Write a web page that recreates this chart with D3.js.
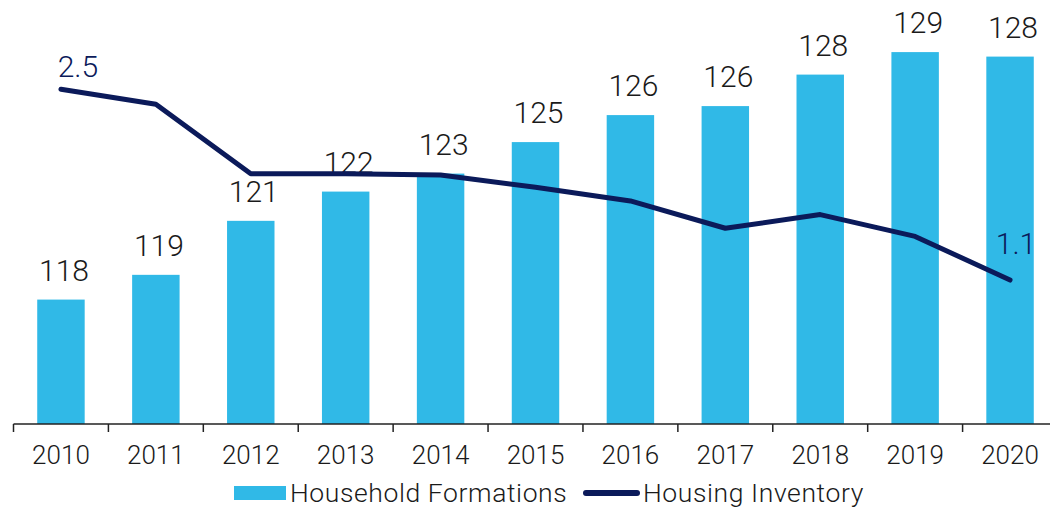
<!DOCTYPE html>
<html>
<head>
<meta charset="utf-8">
<script src="https://cdn.jsdelivr.net/npm/d3@7"></script>
<style>
  body { margin: 0; background: #fff; }
  svg { display: block; font-family: Roboto, "Noto Sans", sans-serif; font-weight: 300; }
</style>
</head>
<body>
<svg id="chart" width="1050" height="507"></svg>
<script>
// data
const years = ['2010', '2011', '2012', '2013', '2014', '2015', '2016', '2017', '2018', '2019', '2020'];
const households = [117.6, 118.7, 121.1, 122.4, 123.2, 124.6, 125.8, 126.2, 127.6, 128.6, 128.4];
const inventory = [2.50, 2.39, 1.88, 1.88, 1.87, 1.78, 1.68, 1.48, 1.58, 1.42, 1.10];
const seriesNames = ['Household Formations', 'Housing Inventory'];

const BAR_COLOR = '#30b9e7';
const LINE_COLOR = '#0b1a5a';
const TEXT_COLOR = '#1a1a1a';
const BASE_Y = 424;

const svg = d3.select('#chart');

const x = d3.scaleBand()
    .domain(years)
    .range([13.5, 1057.5]);

const y = d3.scaleLinear()
    .domain([112.07, 130])
    .range([BASE_Y, 20.6]);

const y2 = d3.scaleLinear()
    .domain([0, 3])
    .range([430, 21]);

const fmt = d3.format('.0f');
const barW = x.bandwidth() * 0.5;
const cx = d => x(d) + x.bandwidth() / 2;

// bars
svg.append('g')
    .selectAll('rect')
    .data(years)
    .join('rect')
    .attr('x', d => cx(d) - barW / 2)
    .attr('y', (d, i) => y(households[i]))
    .attr('width', barW)
    .attr('height', (d, i) => BASE_Y - y(households[i]))
    .attr('fill', BAR_COLOR);

// bar labels
svg.append('g')
    .selectAll('text')
    .data(years)
    .join('text')
    .attr('x', d => cx(d) + 3)
    .attr('y', (d, i) => y(households[i]) - 19)
    .attr('text-anchor', 'middle')
    .attr('font-size', 30)
    .attr('fill', TEXT_COLOR)
    .text((d, i) => fmt(households[i]));

// x axis with ticks between categories
svg.append('line')
    .attr('x1', x.range()[0]).attr('x2', x.range()[1])
    .attr('y1', BASE_Y).attr('y2', BASE_Y)
    .attr('stroke', '#222').attr('stroke-width', 1.5);

svg.append('g')
    .selectAll('line')
    .data(years.concat(['end']))
    .join('line')
    .attr('x1', (d, i) => x.range()[0] + i * x.step())
    .attr('x2', (d, i) => x.range()[0] + i * x.step())
    .attr('y1', BASE_Y).attr('y2', BASE_Y + 8)
    .attr('stroke', '#222').attr('stroke-width', 1.5);

svg.append('g')
    .selectAll('text')
    .data(years)
    .join('text')
    .attr('x', d => cx(d))
    .attr('y', 464)
    .attr('text-anchor', 'middle')
    .attr('font-size', 26)
    .attr('fill', TEXT_COLOR)
    .text(d => d);

// line
const line = d3.line()
    .x((d, i) => cx(years[i]))
    .y(d => y2(d));

svg.append('path')
    .datum(inventory)
    .attr('d', line)
    .attr('fill', 'none')
    .attr('stroke', LINE_COLOR)
    .attr('stroke-width', 5)
    .attr('stroke-linecap', 'round')
    .attr('stroke-linejoin', 'round');

// first and last line labels
const last = inventory.length - 1;
const fmt1 = d3.format('.1f');
svg.append('text')
    .attr('x', cx(years[0]) + 17)
    .attr('y', y2(inventory[0]) - 12)
    .attr('text-anchor', 'middle')
    .attr('font-size', 30)
    .attr('fill', LINE_COLOR)
    .text(fmt1(inventory[0]));

svg.append('text')
    .attr('x', cx(years[last]) + 6)
    .attr('y', y2(inventory[last]) - 26)
    .attr('text-anchor', 'middle')
    .attr('font-size', 30)
    .attr('fill', LINE_COLOR)
    .text(fmt1(inventory[last]));

// legend
const legend = svg.append('g').attr('transform', 'translate(0,493)');
legend.append('rect')
    .attr('x', 234).attr('y', -7)
    .attr('width', 52).attr('height', 14)
    .attr('fill', BAR_COLOR);
legend.append('text')
    .attr('x', 290).attr('y', 9)
    .attr('font-size', 26.5)
    .attr('letter-spacing', 0.6)
    .attr('fill', TEXT_COLOR)
    .text(seriesNames[0]);
legend.append('line')
    .attr('x1', 586).attr('x2', 637)
    .attr('y1', 0).attr('y2', 0)
    .attr('stroke', LINE_COLOR)
    .attr('stroke-width', 6)
    .attr('stroke-linecap', 'round');
legend.append('text')
    .attr('x', 643).attr('y', 9)
    .attr('font-size', 26.5)
    .attr('letter-spacing', 0.6)
    .attr('fill', TEXT_COLOR)
    .text(seriesNames[1]);
</script>
</body>
</html>
